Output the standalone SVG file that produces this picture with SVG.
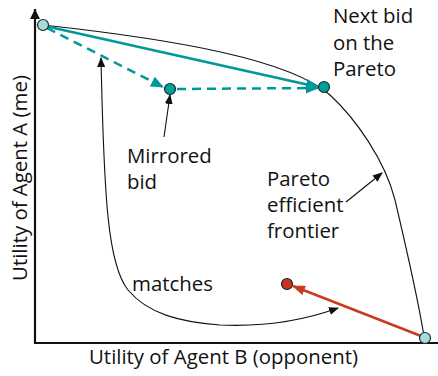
<svg xmlns="http://www.w3.org/2000/svg" width="438" height="376" viewBox="0 0 438 376">
<style>
text{font-family:"Open Sans","Noto Sans","Liberation Sans",sans-serif;font-size:20.4px;fill:#111}
.thin{fill:none;stroke:#111;stroke-width:1.1}
.teal{fill:none;stroke:#00999a;stroke-width:2.5}
.dash{stroke-dasharray:9,6}
.red{fill:none;stroke:#cc3a1e;stroke-width:2.5}
.dot{stroke:#1a2a2a;stroke-width:1.2}
</style>
<defs>
<marker id="ah" markerUnits="userSpaceOnUse" markerWidth="10" markerHeight="8" refX="9" refY="4" orient="auto-start-reverse"><path d="M0,0L10,4L0,8z" fill="#111"/></marker>
<marker id="axh" markerUnits="userSpaceOnUse" markerWidth="10" markerHeight="10" refX="10" refY="5" orient="auto"><path d="M0,0L10,5L0,10z" fill="#111"/></marker>
<marker id="th" markerUnits="userSpaceOnUse" markerWidth="13" markerHeight="11" refX="12" refY="5.5" orient="auto"><path d="M0,0L13,5.5L0,11z" fill="#00999a"/></marker>
<marker id="rh" markerUnits="userSpaceOnUse" markerWidth="13" markerHeight="10" refX="12" refY="5" orient="auto"><path d="M0,0L13,5L0,10z" fill="#cc3a1e"/></marker>
</defs>
<g id="axes">
<line x1="35" y1="344" x2="35" y2="9" stroke="#111" stroke-width="2.2" marker-end="url(#axh)"/>
<line x1="34" y1="343" x2="438" y2="343" stroke="#111" stroke-width="2.2"/>
</g>
<g id="connectors">
<path id="pareto-curve" class="thin" d="M43,25 C180,40 290,60 330,95 C355,118 385,160 395,200 C408,255 418,300 424,336"/>
<path id="matches-curve" class="thin" d="M101,58 C104,200 108,265 128,290 C148,314 180,322 220,325 C265,327 305,320 338,308" marker-start="url(#ah)" marker-end="url(#ah)"/>
<line class="thin" x1="164" y1="137" x2="170" y2="95" marker-end="url(#ah)"/>
<line class="thin" x1="346" y1="202" x2="382" y2="173" marker-end="url(#ah)"/>
<line class="teal" x1="45" y1="26" x2="318" y2="87" marker-end="url(#th)"/>
<line class="teal dash" x1="47" y1="28" x2="163" y2="87" marker-end="url(#th)"/>
<line class="teal dash" x1="177" y1="89" x2="318" y2="88" marker-end="url(#th)"/>
<line class="red" x1="421" y1="336" x2="293" y2="286" marker-end="url(#rh)"/>
</g>
<g id="start-bid"><circle class="dot" cx="43" cy="25" r="5.5" fill="#a8dcdc"/></g>
<g id="opponent-bid"><circle class="dot" cx="425" cy="338" r="5.5" fill="#a8dcdc"/></g>
<g id="mirrored-bid"><circle class="dot" cx="170" cy="89" r="5.5" fill="#00a09a"/></g>
<g id="next-bid"><circle class="dot" cx="324" cy="87" r="5.5" fill="#00a09a"/></g>
<g id="red-bid"><circle class="dot" cx="287" cy="284" r="5.5" fill="#c8371b"/></g>
<g id="labels">
<text x="333" y="23">Next bid</text>
<text x="333" y="50">on the</text>
<text x="333" y="76">Pareto</text>
<text x="127" y="163">Mirrored</text>
<text x="127" y="189">bid</text>
<text x="267" y="186">Pareto</text>
<text x="267" y="212">efficient</text>
<text x="267" y="238">frontier</text>
<text x="132" y="291">matches</text>
<text x="223.5" y="364" text-anchor="middle">Utility of Agent B (opponent)</text>
<text transform="translate(27,178) rotate(-90)" text-anchor="middle">Utility of Agent A (me)</text>
</g>
</svg>
